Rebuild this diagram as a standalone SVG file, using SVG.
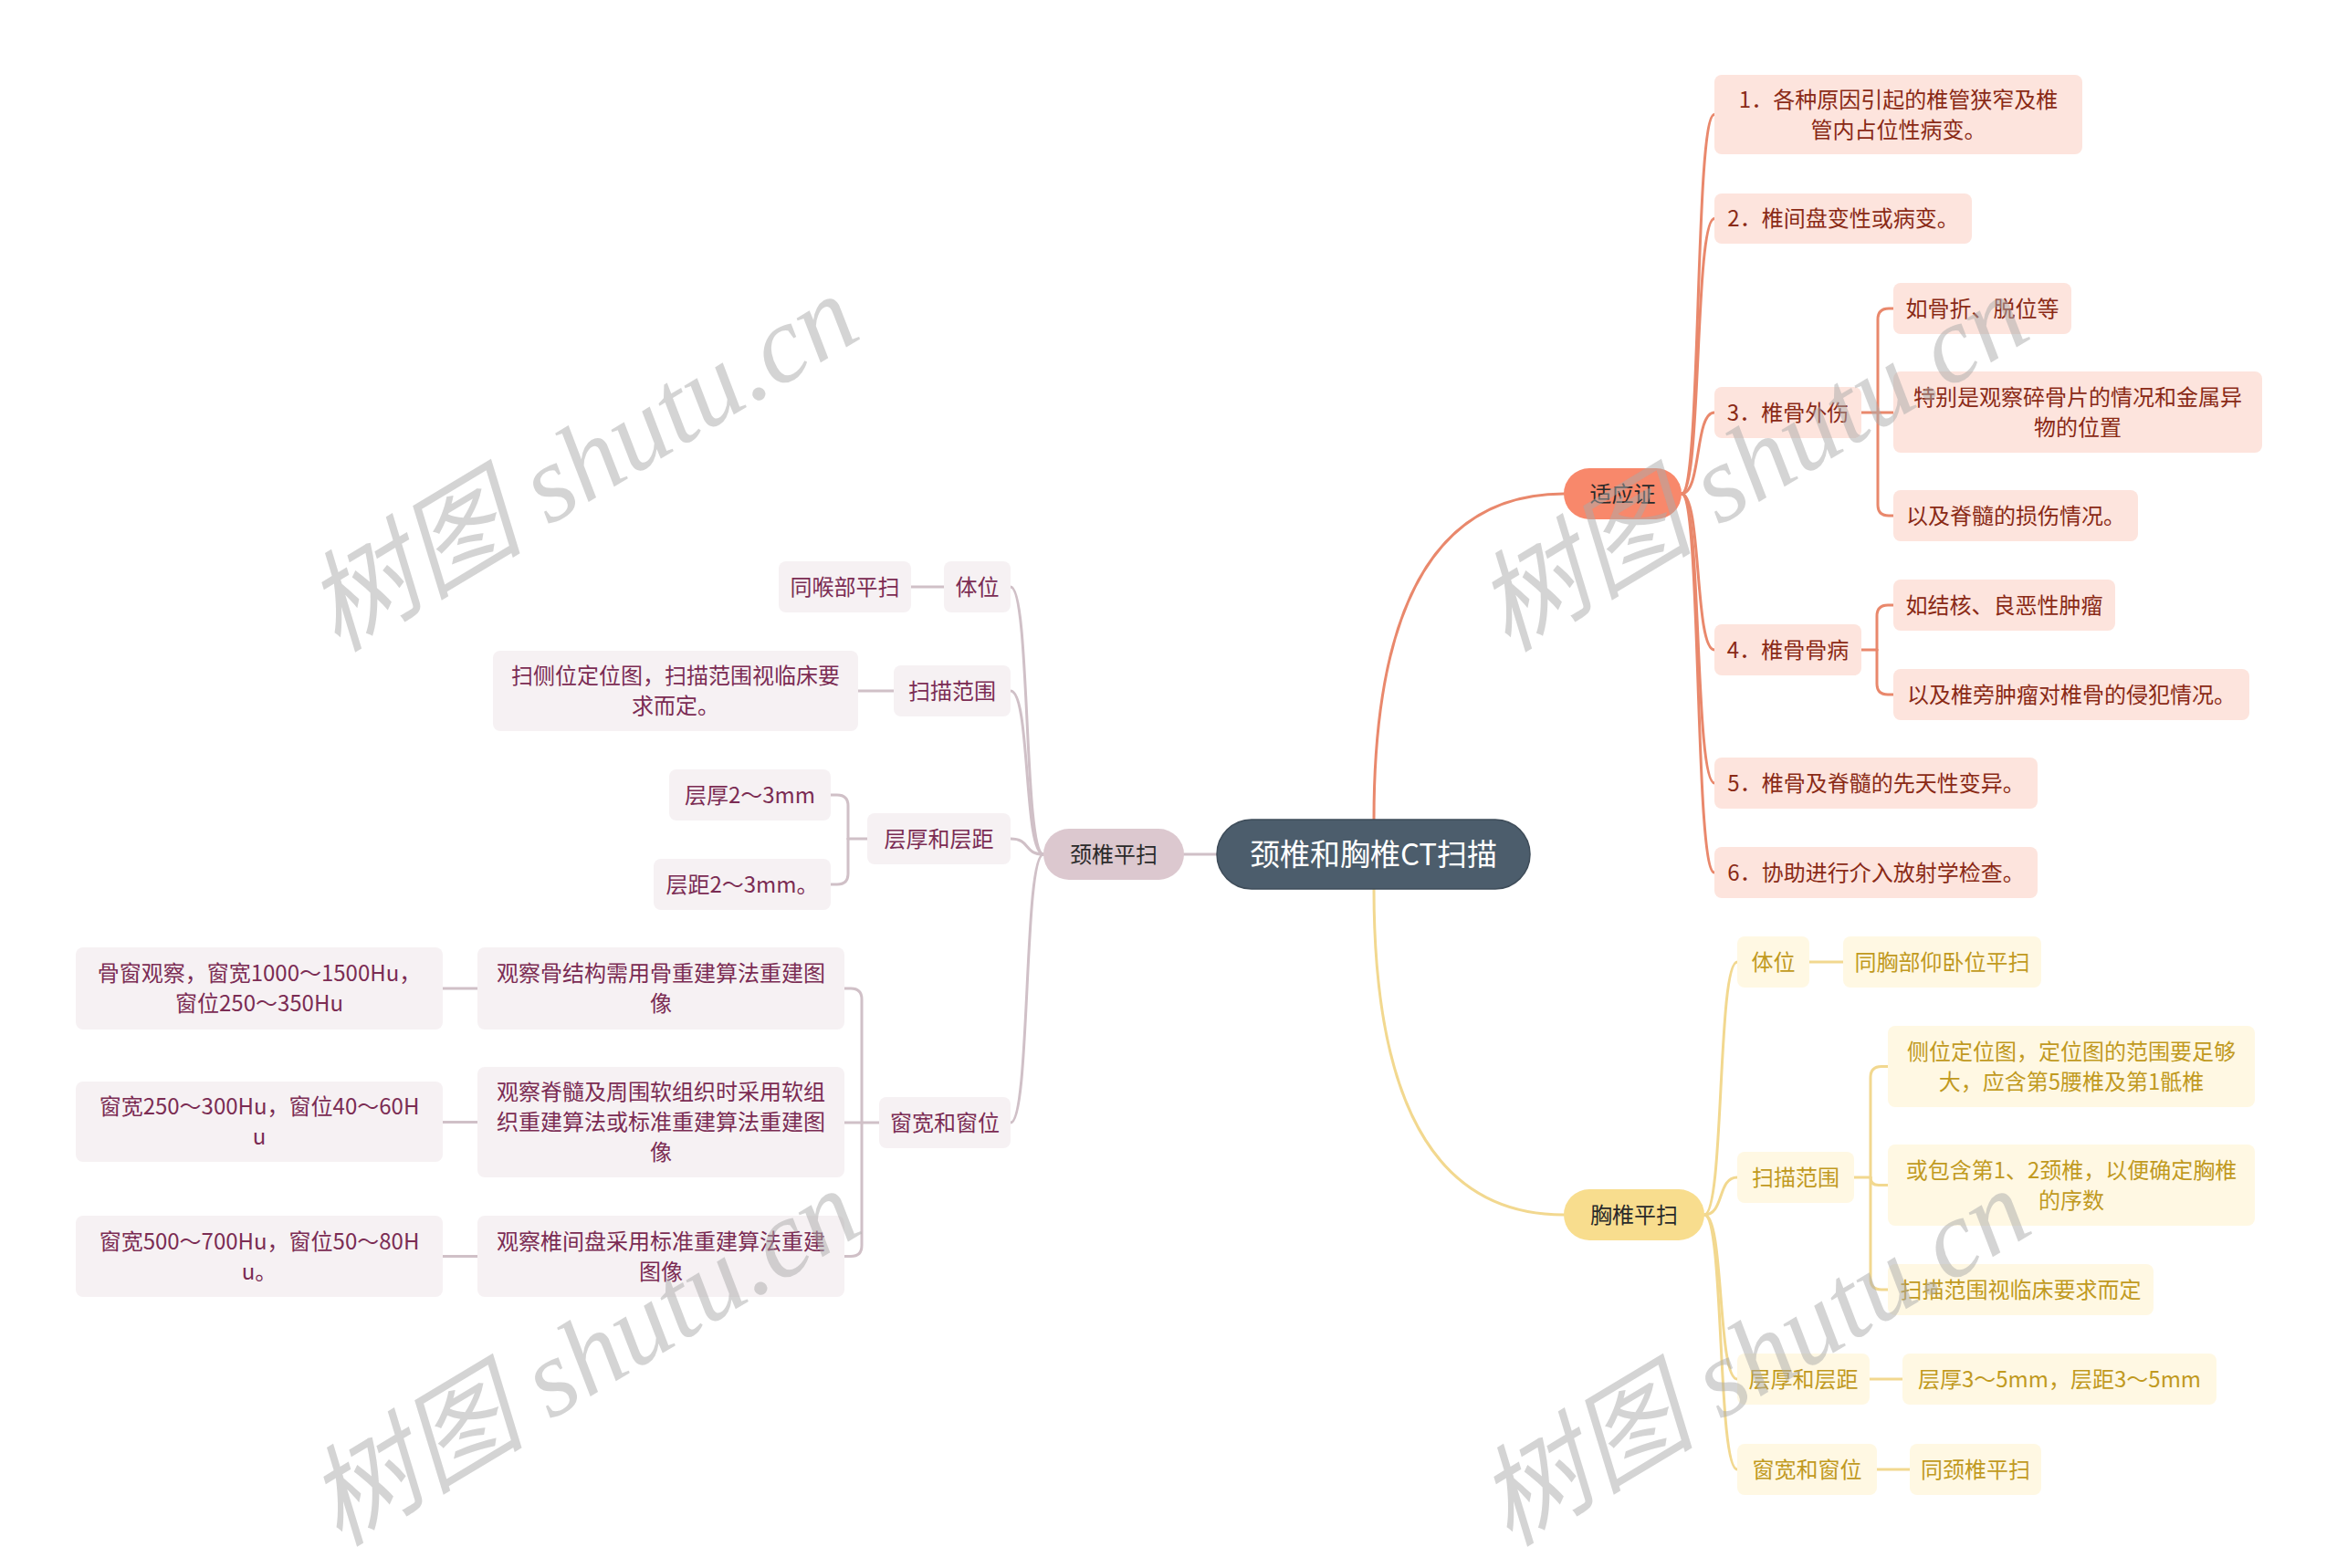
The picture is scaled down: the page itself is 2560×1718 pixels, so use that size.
<svg xmlns="http://www.w3.org/2000/svg" width="2560" height="1718" viewBox="0 0 2560 1718">
<style>
text{font-family:"Noto Sans CJK SC","Noto Sans",sans-serif;font-size:24px;text-anchor:middle}
.ln{fill:none;stroke-width:3;stroke-linecap:round}
.o{stroke:#e9886c}.y{stroke:#f2d88f}.m{stroke:#d0c0c7}
.pk rect{fill:#fde4dd}.pk text{fill:#8a2a16}
.yl rect{fill:#fff8e3}.yl text{fill:#c19a1f}
.mv rect{fill:#f6f1f3}.mv text{fill:#7b2c53}
.l1 text{fill:#2a2a2a}
.wm{font-family:"Liberation Serif","Noto Sans CJK SC",serif;font-style:italic;font-size:120px;fill:#aaaaaa;fill-opacity:0.5}
</style>
<rect width="2560" height="1718" fill="#ffffff"/>
<g id="connectors">
<path class="ln o" d="M1505,898 Q1505,541 1713,541"/>
<path class="ln y" d="M1505,974 Q1505,1331 1713,1331"/>
<path class="ln m" d="M1333,936 H1297"/>
<path class="ln o" d="M1842,541 C1864,541 1856,125.5 1878,125.5"/>
<path class="ln o" d="M1842,541 C1864,541 1856,239.5 1878,239.5"/>
<path class="ln o" d="M1842,541 C1864,541 1856,452 1878,452"/>
<path class="ln o" d="M1842,541 C1864,541 1856,712 1878,712"/>
<path class="ln o" d="M1842,541 C1864,541 1856,858 1878,858"/>
<path class="ln o" d="M1842,541 C1864,541 1856,956 1878,956"/>
<path class="ln o" d="M2039,452 H2074"/>
<path class="ln o" d="M2057,452 V350 Q2057,338 2069,338 H2074"/>
<path class="ln o" d="M2057,452 V553 Q2057,565 2069,565 H2074"/>
<path class="ln o" d="M2039,712 H2056"/>
<path class="ln o" d="M2056,712 V675 Q2056,663 2068,663 H2074"/>
<path class="ln o" d="M2056,712 V749 Q2056,761 2068,761 H2074"/>
<path class="ln y" d="M1867,1331 C1889,1331 1881,1054 1903,1054"/>
<path class="ln y" d="M1867,1331 C1889,1331 1881,1290 1903,1290"/>
<path class="ln y" d="M1867,1331 C1889,1331 1881,1511 1903,1511"/>
<path class="ln y" d="M1867,1331 C1889,1331 1881,1610 1903,1610"/>
<path class="ln y" d="M1982,1054 H2019"/>
<path class="ln y" d="M2031,1290 H2049"/>
<path class="ln y" d="M2049,1290 V1180.5 Q2049,1168.5 2061,1168.5 H2068"/>
<path class="ln y" d="M2049,1290 Q2049,1298.5 2058,1298.5 H2068"/>
<path class="ln y" d="M2049,1290 V1401 Q2049,1413 2061,1413 H2068"/>
<path class="ln y" d="M2048,1511 H2084"/>
<path class="ln y" d="M2056,1610 H2092"/>
<path class="ln m" d="M1143,936 C1121,936 1129,643 1107,643"/>
<path class="ln m" d="M1143,936 C1121,936 1129,757 1107,757"/>
<path class="ln m" d="M1143,936 C1121,936 1129,919 1107,919"/>
<path class="ln m" d="M1143,936 C1121,936 1129,1230 1107,1230"/>
<path class="ln m" d="M1034,643 H998"/>
<path class="ln m" d="M979,757 H940"/>
<path class="ln m" d="M950,919 H929"/>
<path class="ln m" d="M929,919 V883 Q929,871 917,871 H910"/>
<path class="ln m" d="M929,919 V957 Q929,969 917,969 H910"/>
<path class="ln m" d="M963,1230 H925"/>
<path class="ln m" d="M944,1230 V1095 Q944,1083 932,1083 H925"/>
<path class="ln m" d="M944,1230 V1364.5 Q944,1376.5 932,1376.5 H925"/>
<path class="ln m" d="M523,1083 H485"/>
<path class="ln m" d="M523,1229.5 H485"/>
<path class="ln m" d="M523,1376.5 H485"/>
</g>
<g id="root"><rect x="1333" y="898" width="343" height="76" rx="38" fill="#4c5d6c" stroke="#3e4c59" stroke-width="1.5"/><text x="1504.5" y="948" style="font-size:33px;fill:#ffffff">颈椎和胸椎CT扫描</text></g>
<g id="n-syz" class="l1"><rect x="1713" y="513" width="129" height="56" rx="28" fill="#f8886b"/><text x="1777.5" y="549.5">适应证</text></g>
<g id="n-xz" class="l1"><rect x="1713" y="1303" width="154" height="56" rx="28" fill="#f8dd8e"/><text x="1790" y="1339.5">胸椎平扫</text></g>
<g id="n-jz" class="l1"><rect x="1143" y="908" width="154" height="56" rx="28" fill="#dcc8cf"/><text x="1220" y="944.5">颈椎平扫</text></g>
<g id="p1" class="pk"><rect x="1878" y="82" width="403" height="87" rx="8"/><text x="2079.5" y="117.5">1．各种原因引起的椎管狭窄及椎</text><text x="2079.5" y="150.5">管内占位性病变。</text></g>
<g id="p2" class="pk"><rect x="1878" y="212" width="282" height="55" rx="8"/><text x="2019" y="248">2．椎间盘变性或病变。</text></g>
<g id="p3" class="pk"><rect x="1878" y="424" width="161" height="56" rx="8"/><text x="1958.5" y="460.5">3．椎骨外伤</text></g>
<g id="p3a" class="pk"><rect x="2074" y="310" width="195" height="56" rx="8"/><text x="2171.5" y="346.5">如骨折、脱位等</text></g>
<g id="p3b" class="pk"><rect x="2074" y="407" width="404" height="89" rx="8"/><text x="2276" y="443.5">特别是观察碎骨片的情况和金属异</text><text x="2276" y="476.5">物的位置</text></g>
<g id="p3c" class="pk"><rect x="2074" y="537" width="268" height="56" rx="8"/><text x="2208" y="573.5">以及脊髓的损伤情况。</text></g>
<g id="p4" class="pk"><rect x="1878" y="684" width="161" height="56" rx="8"/><text x="1958.5" y="720.5">4．椎骨骨病</text></g>
<g id="p4a" class="pk"><rect x="2074" y="635" width="243" height="56" rx="8"/><text x="2195.5" y="671.5">如结核、良恶性肿瘤</text></g>
<g id="p4b" class="pk"><rect x="2074" y="733" width="390" height="56" rx="8"/><text x="2269" y="769.5">以及椎旁肿瘤对椎骨的侵犯情况。</text></g>
<g id="p5" class="pk"><rect x="1878" y="830" width="354" height="56" rx="8"/><text x="2055" y="866.5">5．椎骨及脊髓的先天性变异。</text></g>
<g id="p6" class="pk"><rect x="1878" y="928" width="354" height="56" rx="8"/><text x="2055" y="964.5">6．协助进行介入放射学检查。</text></g>
<g id="y1" class="yl"><rect x="1903" y="1026" width="79" height="56" rx="8"/><text x="1942.5" y="1062.5">体位</text></g>
<g id="y1a" class="yl"><rect x="2019" y="1026" width="217" height="56" rx="8"/><text x="2127.5" y="1062.5">同胸部仰卧位平扫</text></g>
<g id="y2" class="yl"><rect x="1903" y="1262" width="128" height="56" rx="8"/><text x="1967" y="1298.5">扫描范围</text></g>
<g id="y2a" class="yl"><rect x="2068" y="1124" width="402" height="89" rx="8"/><text x="2269" y="1160.5">侧位定位图，定位图的范围要足够</text><text x="2269" y="1193.5">大，应含第5腰椎及第1骶椎</text></g>
<g id="y2b" class="yl"><rect x="2068" y="1254" width="402" height="89" rx="8"/><text x="2269" y="1290.5">或包含第1、2颈椎，以便确定胸椎</text><text x="2269" y="1323.5">的序数</text></g>
<g id="y2c" class="yl"><rect x="2068" y="1385" width="291" height="56" rx="8"/><text x="2213.5" y="1421.5">扫描范围视临床要求而定</text></g>
<g id="y3" class="yl"><rect x="1903" y="1483" width="145" height="56" rx="8"/><text x="1975.5" y="1519.5">层厚和层距</text></g>
<g id="y3a" class="yl"><rect x="2084" y="1483" width="344" height="56" rx="8"/><text x="2256" y="1519.5">层厚3～5mm，层距3～5mm</text></g>
<g id="y4" class="yl"><rect x="1903" y="1582" width="153" height="56" rx="8"/><text x="1979.5" y="1618.5">窗宽和窗位</text></g>
<g id="y4a" class="yl"><rect x="2092" y="1582" width="144" height="56" rx="8"/><text x="2164" y="1618.5">同颈椎平扫</text></g>
<g id="m1" class="mv"><rect x="1034" y="615" width="73" height="56" rx="8"/><text x="1070.5" y="651.5">体位</text></g>
<g id="m1a" class="mv"><rect x="853" y="615" width="145" height="56" rx="8"/><text x="925.5" y="651.5">同喉部平扫</text></g>
<g id="m2" class="mv"><rect x="979" y="729" width="128" height="56" rx="8"/><text x="1043" y="765.5">扫描范围</text></g>
<g id="m2a" class="mv"><rect x="540" y="713" width="400" height="88" rx="8"/><text x="740" y="749">扫侧位定位图，扫描范围视临床要</text><text x="740" y="782">求而定。</text></g>
<g id="m3" class="mv"><rect x="950" y="891" width="157" height="56" rx="8"/><text x="1028.5" y="927.5">层厚和层距</text></g>
<g id="m3a" class="mv"><rect x="733" y="843" width="177" height="56" rx="8"/><text x="821.5" y="879.5">层厚2～3mm</text></g>
<g id="m3b" class="mv"><rect x="716" y="941" width="194" height="56" rx="8"/><text x="813" y="977.5">层距2～3mm。</text></g>
<g id="m4" class="mv"><rect x="963" y="1202" width="144" height="56" rx="8"/><text x="1035" y="1238.5">窗宽和窗位</text></g>
<g id="m4a" class="mv"><rect x="523" y="1038" width="402" height="90" rx="8"/><text x="724" y="1075">观察骨结构需用骨重建算法重建图</text><text x="724" y="1108">像</text></g>
<g id="m4a1" class="mv"><rect x="83" y="1038" width="402" height="90" rx="8"/><text x="284" y="1075">骨窗观察，窗宽1000～1500Hu，</text><text x="284" y="1108">窗位250～350Hu</text></g>
<g id="m4b" class="mv"><rect x="523" y="1169" width="402" height="121" rx="8"/><text x="724" y="1205">观察脊髓及周围软组织时采用软组</text><text x="724" y="1238">织重建算法或标准重建算法重建图</text><text x="724" y="1271">像</text></g>
<g id="m4b1" class="mv"><rect x="83" y="1185" width="402" height="88" rx="8"/><text x="284" y="1221">窗宽250～300Hu，窗位40～60H</text><text x="284" y="1254">u</text></g>
<g id="m4c" class="mv"><rect x="523" y="1332" width="402" height="89" rx="8"/><text x="724" y="1368.5">观察椎间盘采用标准重建算法重建</text><text x="724" y="1401.5">图像</text></g>
<g id="m4c1" class="mv"><rect x="83" y="1332" width="402" height="89" rx="8"/><text x="284" y="1368.5">窗宽500～700Hu，窗位50～80H</text><text x="284" y="1401.5">u。</text></g>
<g id="watermarks">
<text class="wm" transform="translate(658,542) rotate(-31)">树图 shutu.cn</text>
<text class="wm" transform="translate(1940,542) rotate(-31)">树图 shutu.cn</text>
<text class="wm" transform="translate(660,1522) rotate(-31)">树图 shutu.cn</text>
<text class="wm" transform="translate(1942,1522) rotate(-31)">树图 shutu.cn</text>
</g>
</svg>
